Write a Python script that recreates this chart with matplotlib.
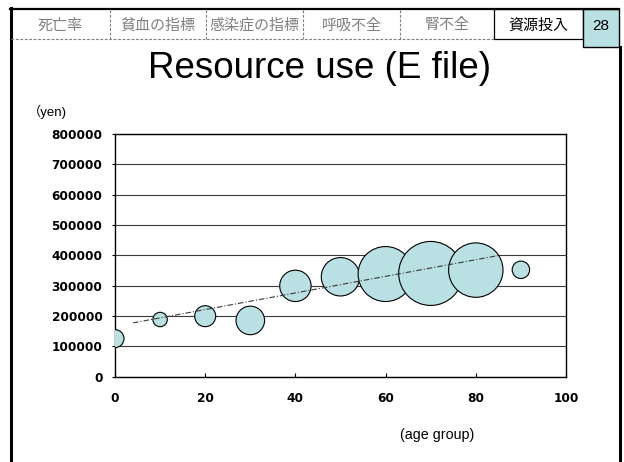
import matplotlib
matplotlib.use("Agg")
import matplotlib.pyplot as plt
from matplotlib.lines import Line2D
from matplotlib.patches import Rectangle

# --- data -------------------------------------------------------------
age_group = [0, 10, 20, 30, 40, 50, 60, 70, 80, 90]
cost_yen = [125000, 188000, 199000, 185000, 299000, 329000, 338000, 340000, 351000, 352000]
bubble_size = [81, 52, 110, 204, 246, 369, 756, 1024, 740, 76]

trend_age = [4, 85]
trend_cost = [177000, 399000]

x_ticks = [0, 20, 40, 60, 80, 100]
y_ticks = [0, 100000, 200000, 300000, 400000, 500000, 600000, 700000, 800000]

tab_labels = ["死亡率", "貧血の指標", "感染症の指標", "呼吸不全", "腎不全"]
active_tab = "資源投入"
page_no = "28"
title = "Resource use (E file)"
y_unit = "（yen)"
x_label = "(age group)"

# --- figure -----------------------------------------------------------
W, H = 624, 462
fig = plt.figure(figsize=(W / 100, H / 100), dpi=100)
fig.patch.set_facecolor("white")

BUBBLE = "#b9e0e3"
GRAY_TXT = "#808080"
CJK = ["Noto Sans CJK JP", "DejaVu Sans"]
SANS = ["Liberation Sans", "Noto Sans CJK JP"]


def fx(x):
    return x / W


def fy(y):
    return 1 - y / H


def hline(x0, x1, y, **kw):
    fig.add_artist(Line2D([fx(x0), fx(x1)], [fy(y), fy(y)], transform=fig.transFigure, **kw))


def vline(x, y0, y1, **kw):
    fig.add_artist(Line2D([fx(x), fx(x)], [fy(y0), fy(y1)], transform=fig.transFigure, **kw))


# slide frame
hline(10, 619, 9, color="black", lw=1.6)
vline(11, 8, H + 2, color="black", lw=2.2)
vline(619.5, 47, H + 2, color="black", lw=2.2)

# header tabs
tab_edges = [11, 110, 206, 303, 400, 494]
hline(11, 494, 39, color=GRAY_TXT, lw=0.8, ls=(0, (2.5, 1.5)))
for xe in tab_edges[1:-1]:
    vline(xe, 10, 39, color=GRAY_TXT, lw=0.8, ls=(0, (2.5, 1.5)))
for i, lab in enumerate(tab_labels):
    cx = (tab_edges[i] + tab_edges[i + 1]) / 2
    fig.text(fx(cx), fy(25.5), lab, ha="center", va="center", fontsize=10.8,
             family=CJK, color=GRAY_TXT)

fig.add_artist(Rectangle((fx(494), fy(39)), fx(583) - fx(494), fy(9) - fy(39),
                         transform=fig.transFigure, facecolor="white",
                         edgecolor="black", lw=0.9))
fig.text(fx(538.5), fy(25.5), active_tab, ha="center", va="center", fontsize=10.8,
         family=CJK, color="black")

fig.add_artist(Rectangle((fx(583), fy(47)), fx(619) - fx(583), fy(9) - fy(47),
                         transform=fig.transFigure, facecolor=BUBBLE,
                         edgecolor="black", lw=1.0))
fig.text(fx(601), fy(29.5), page_no, ha="center", va="baseline", fontsize=11,
         family=SANS, color="black")

# title
fig.text(fx(320), fy(78), title, ha="center", va="baseline", fontsize=26.5,
         family=SANS, color="black")

# --- bubble chart -----------------------------------------------------
ax = fig.add_axes([fx(115), fy(376.5), fx(566) - fx(115), fy(134) - fy(376.5)])
ax.set_xlim(0, 100)
ax.set_ylim(0, 800000)

ax.yaxis.grid(True, color="#3a3a3a", lw=0.8)
ax.set_axisbelow(True)

ax.scatter(age_group, cost_yen, s=[v * 2.0736 for v in bubble_size],
           facecolor=BUBBLE, edgecolor="black", linewidths=0.8, zorder=3)

ax.plot(trend_age, trend_cost, color="#3a3a3a", lw=0.8,
        ls=(0, (5, 1.8, 1, 1.8)), zorder=4)

for sp in ax.spines.values():
    sp.set_color("black")
    sp.set_linewidth(1.0)

ax.set_xticks(x_ticks)
ax.set_xticklabels([str(v) for v in x_ticks])
ax.set_yticks(y_ticks)
ax.set_yticklabels([str(v) for v in y_ticks])
ax.tick_params(axis="x", direction="in", length=3, width=0.8, pad=11)
ax.tick_params(axis="y", direction="out", length=2, width=0.8, pad=7)
for lab in ax.get_xticklabels() + ax.get_yticklabels():
    lab.set_fontfamily("DejaVu Sans")
    lab.set_fontweight("bold")
    lab.set_fontsize(8.7)

fig.text(fx(28), fy(112), y_unit, ha="left", va="center", fontsize=9.5,
         family=SANS, color="black")
fig.text(fx(437), fy(435), x_label, ha="center", va="center", fontsize=10.3,
         family=SANS, color="black")

fig.savefig("out.png", dpi=100)
